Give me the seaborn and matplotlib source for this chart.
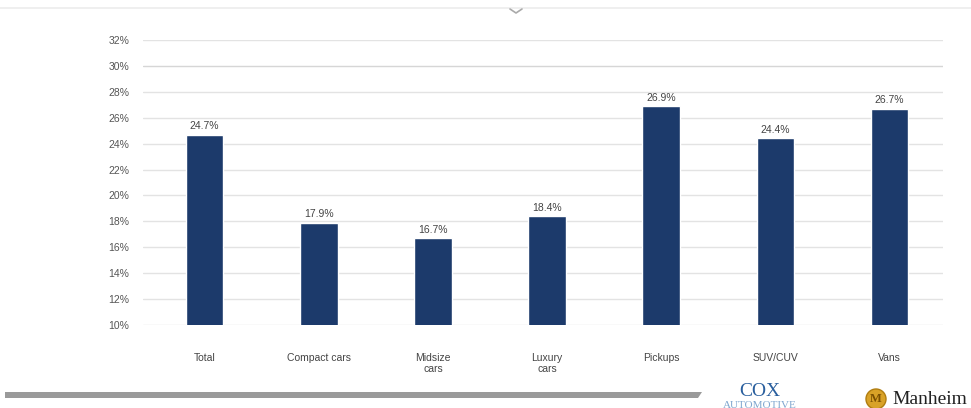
import matplotlib
matplotlib.use("Agg")
import matplotlib.pyplot as plt
import seaborn as sns
import pandas as pd
from matplotlib.patches import Ellipse, Polygon
from matplotlib.lines import Line2D

categories = ["Total", "Compact cars", "Midsize\ncars", "Luxury\ncars", "Pickups", "SUV/CUV", "Vans"]
values = [24.7, 17.9, 16.7, 18.4, 26.9, 24.4, 26.7]
yticks = [10, 12, 14, 16, 18, 20, 22, 24, 26, 28, 30, 32]

df = pd.DataFrame({"category": categories, "value": values})

sns.set_theme(style="white")
plt.rcParams['font.family'] = ['Liberation Sans', 'DejaVu Sans']

fig = plt.figure(figsize=(9.71, 4.08), dpi=100)
ax = fig.add_axes([0.1473, 0.2034, 0.824, 0.6986])

bar_color = "#1c3a6b"
sns.barplot(data=df, x="category", y="value", color=bar_color, width=0.33,
            saturation=1, ax=ax, zorder=3)

ax.set_ylim(10, 32)
ax.set_xlim(-0.54, 6.47)
ax.set_yticks(yticks)
ax.set_yticklabels([f"{t}%" for t in yticks], fontsize=7.5, color="#555555")
ax.tick_params(axis="x", labelsize=7.5, colors="#444444", length=0, pad=20)
ax.tick_params(axis="y", length=0, pad=10)
for lbl in ax.get_xticklabels():
    lbl.set_linespacing(1.1)
    lbl.set_verticalalignment("top")
ax.set_xlabel("")
ax.set_ylabel("")
for t in yticks:
    ax.axhline(t, color="#e3e3e3" if t != 30 else "#d6d6d6", lw=1.0, zorder=1)
for s in ax.spines.values():
    s.set_visible(False)

for i, v in enumerate(values):
    ax.text(i, v + 0.25, f"{v}%", ha="center", va="bottom", fontsize=7.5, color="#444444")

# decorations: top line with chevron
fig.add_artist(Line2D([0, 1], [1 - 8/408, 1 - 8/408], color="#ececec", lw=1.2, transform=fig.transFigure))
fig.add_artist(Line2D([510/971, 516/971, 522/971], [1 - 9/408, 1 - 13/408, 1 - 9/408],
                      color="#aaaaaa", lw=1.2, transform=fig.transFigure))

# bottom gray bar
fig.add_artist(Polygon([[5/971, 1 - 392/408], [702/971, 1 - 392/408], [698/971, 1 - 398/408], [5/971, 1 - 398/408]],
                       closed=True, facecolor="#9a9a9a", edgecolor="none", transform=fig.transFigure))

# logos as text
fig.text(760/971, 1 - 392/408, "COX", fontsize=14, color="#2a5f9e", ha="center", va="center",
         family=["Liberation Serif", "DejaVu Serif"])
fig.text(760/971, 1 - 405/408, "AUTOMOTIVE", fontsize=8, color="#7fa6cf", ha="center", va="center",
         family=["Liberation Serif", "DejaVu Serif"])
fig.add_artist(Ellipse((876/971, 1 - 399/408), 20/971, 20/408, facecolor="#d9a227", edgecolor="#b07d10",
                       transform=fig.transFigure))
fig.text(876/971, 1 - 399/408, "M", fontsize=9, color="#7a4f00", ha="center", va="center",
         family=["Liberation Serif", "DejaVu Serif"], fontweight="bold")
fig.text(892/971, 1 - 399/408, "Manheim", fontsize=14, color="#222222", ha="left", va="center",
         family=["Liberation Serif", "DejaVu Serif"])

fig.savefig("out.png", dpi=100)
